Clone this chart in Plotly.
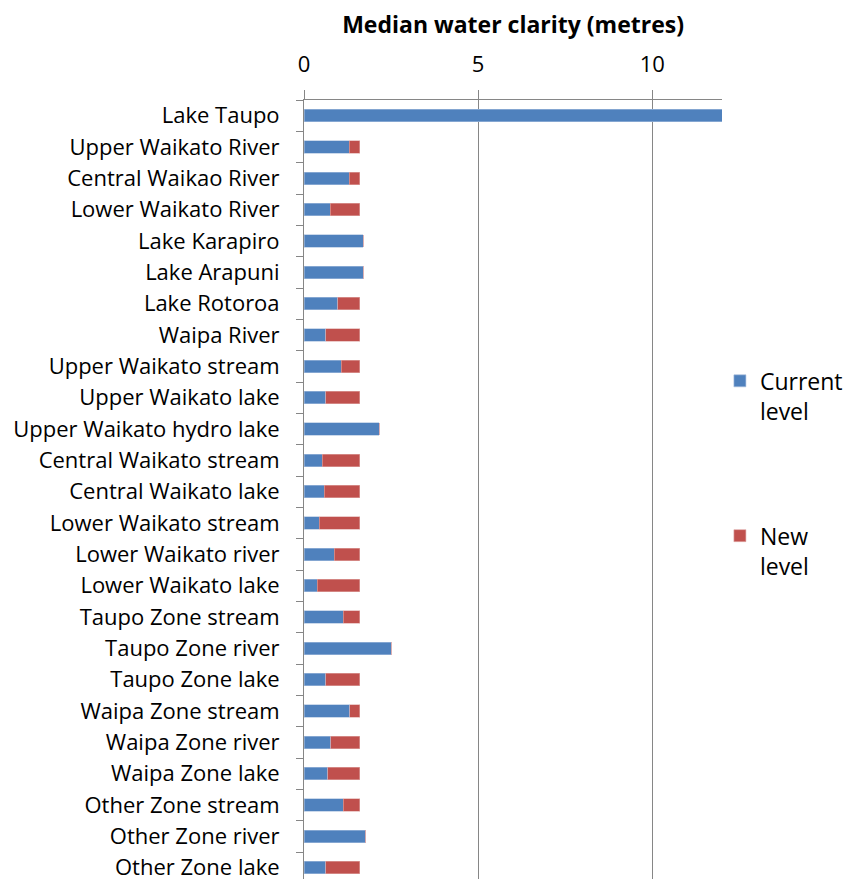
import plotly.graph_objects as go

# Water bodies, top to bottom
sites = [
    "Lake Taupo", "Upper Waikato River", "Central Waikao River", "Lower Waikato River",
    "Lake Karapiro", "Lake Arapuni", "Lake Rotoroa", "Waipa River",
    "Upper Waikato stream", "Upper Waikato lake", "Upper Waikato hydro lake",
    "Central Waikato stream", "Central Waikato lake", "Lower Waikato stream",
    "Lower Waikato river", "Lower Waikato lake", "Taupo Zone stream", "Taupo Zone river",
    "Taupo Zone lake", "Waipa Zone stream", "Waipa Zone river", "Waipa Zone lake",
    "Other Zone stream", "Other Zone river", "Other Zone lake",
]

# Median clarity today (m)
current_level = [
    12.0, 1.3, 1.3, 0.76, 1.7, 1.7, 0.97, 0.62,
    1.07, 0.62, 2.16, 0.52, 0.58, 0.44, 0.87, 0.38,
    1.13, 2.5, 0.62, 1.31, 0.77, 0.68, 1.13, 1.77, 0.62,
]

# Additional clarity needed to reach the new level (m)
new_level = [
    0.0, 0.3, 0.3, 0.84, 0.0, 0.0, 0.63, 0.98,
    0.53, 0.98, 0.0, 1.08, 1.02, 1.16, 0.73, 1.22,
    0.47, 0.0, 0.98, 0.29, 0.83, 0.92, 0.47, 0.0, 0.98,
]

x_ticks = [0, 5, 10]

FONT = "Open Sans"
BLUE = "#4F81BD"
RED = "#C0504D"
GREY = "#868686"

fig = go.Figure()
fig.add_trace(go.Bar(
    y=sites, x=current_level, orientation="h", name="Current<br>level",
    marker=dict(color=BLUE, line=dict(color="#a9c0dd", width=0.6)),
    legendgroup="a",
))
fig.add_trace(go.Bar(
    y=sites, x=new_level, orientation="h", name="New<br>level",
    marker=dict(color=RED, line=dict(color="#dfa9a7", width=0.6)),
    legendgroup="b",
))

fig.update_layout(
    width=846, height=879,
    barmode="stack", bargap=0.6,
    plot_bgcolor="white", paper_bgcolor="white",
    margin=dict(l=304, r=124, t=100, b=0, pad=0, autoexpand=False),
    font=dict(family=FONT, size=22, color="#000000"),
    title=dict(
        text="<b>Median water clarity (metres)</b>",
        x=0.6065, xanchor="center", y=0.972, yanchor="middle",
        font=dict(family=FONT, size=23, color="#000000"),
    ),
    legend=dict(
        x=0.995, xanchor="left", y=0.667, yanchor="top",
        traceorder="grouped", tracegroupgap=92, valign="top",
        font=dict(family=FONT, size=23, color="#000000"),
        bgcolor="rgba(0,0,0,0)",
    ),
    xaxis=dict(
        side="top", range=[0, 12], tickvals=x_ticks,
        showgrid=True, gridcolor=GREY, gridwidth=1,
        showline=True, linecolor=GREY, linewidth=1,
        ticks="outside", ticklen=9, tickcolor=GREY,
        ticklabelstandoff=9, automargin=False,
        tickfont=dict(family=FONT, size=22),
        zeroline=False,
    ),
    yaxis=dict(
        type="category", categoryorder="array", categoryarray=sites,
        range=[24.36, -0.5],
        showline=True, linecolor=GREY, linewidth=1,
        ticks="outside", ticklen=7, tickcolor=GREY, tickson="boundaries",
        ticklabelstandoff=19, automargin=False,
        tickfont=dict(family=FONT, size=22),
        showgrid=False,
    ),
)

fig.write_html("out.html")
